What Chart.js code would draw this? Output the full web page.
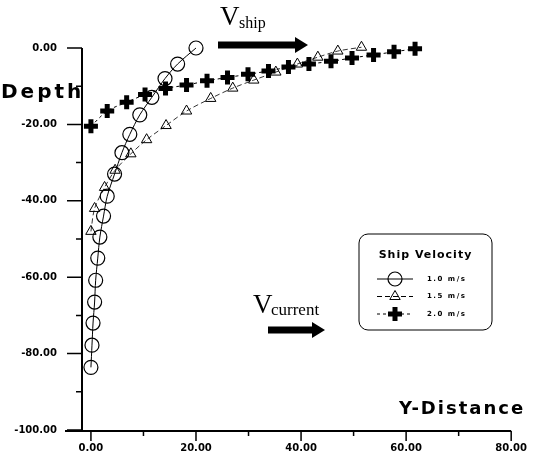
<!DOCTYPE html>
<html>
<head>
<meta charset="utf-8">
<script src="https://cdn.jsdelivr.net/npm/chart.js@4.4.1/dist/chart.umd.min.js"></script>
<style>
  html, body { margin: 0; padding: 0; background: #fff; }
  #wrap { width: 539px; height: 464px; }
</style>
</head>
<body>
<div id="wrap"><canvas id="shipChart" width="539" height="464"></canvas></div>
<script>
// 축 눈금
const distTicks = [0, 10, 20, 30, 40, 50, 60, 70, 80];
const depthTicks = [0, -10, -20, -30, -40, -50, -60, -70, -80, -90, -100];

// 1.0 m/s (circle)
const circleX = [20, 16.5, 14.1, 11.6, 9.3, 7.4, 5.9, 4.5, 3.1, 2.4, 1.7, 1.3, 0.9, 0.7, 0.4, 0.2, 0];
const circleY = [0, -4.2, -8, -12.9, -17.5, -22.6, -27.4, -33, -38.8, -44, -49.5, -55, -60.8, -66.5, -72, -77.8, -83.6];

// 1.5 m/s (triangle)
const triX = [0, 0.7, 2.6, 4.6, 7.6, 10.6, 14.3, 18.2, 22.8, 27, 31, 35.2, 39.3, 43.2, 47, 51.5];
const triY = [-48, -42, -36.5, -32, -27.7, -24, -20.3, -16.5, -13.2, -10.5, -8.4, -6.3, -4.2, -2.4, -0.8, 0.2];

// 2.0 m/s (cross)
const plusX = [0, 3.1, 6.8, 10.3, 14.2, 18.2, 22.1, 26, 29.9, 33.8, 37.6, 41.5, 45.7, 49.7, 53.8, 57.7, 61.7];
const plusY = [-20.5, -16.5, -14.2, -12.2, -10.6, -9.7, -8.6, -7.7, -6.9, -6.0, -5.0, -4.2, -3.5, -2.6, -1.8, -1.0, -0.2];

const seriesLabels = ['1.0 m/s', '1.5 m/s', '2.0 m/s'];

function toPoints(xs, ys) {
  return xs.map((x, i) => ({ x: x, y: ys[i] }));
}

const tickFont = { family: '"DejaVu Sans"', size: 10, weight: 'bold' };

// 화살표
function arrow(ctx, x0, x1, y, shaft, headLen, headH) {
  ctx.beginPath();
  ctx.moveTo(x0, y - shaft / 2);
  ctx.lineTo(x1 - headLen, y - shaft / 2);
  ctx.lineTo(x1 - headLen, y - headH / 2);
  ctx.lineTo(x1, y);
  ctx.lineTo(x1 - headLen, y + headH / 2);
  ctx.lineTo(x1 - headLen, y + shaft / 2);
  ctx.lineTo(x0, y + shaft / 2);
  ctx.closePath();
  ctx.fill();
}

const decor = {
  id: 'decor',
  beforeDatasetsDraw(chart) {
    const ctx = chart.ctx;
    ctx.save();
    ctx.fillStyle = '#000';
    ctx.font = 'bold 20px "DejaVu Sans"';
    ctx.letterSpacing = '3px';
    ctx.fillText('Depth', 1, 98);
    ctx.font = 'bold 18px "DejaVu Sans"';
    ctx.letterSpacing = '2px';
    ctx.fillText('Y-Distance', 399, 414);
    ctx.letterSpacing = '0px';

    // V ship
    ctx.font = '27px "Liberation Serif"';
    ctx.fillText('V', 220, 25);
    ctx.font = '16px "Liberation Serif"';
    ctx.fillText('ship', 239, 28);
    arrow(ctx, 218, 308, 45, 7, 13, 16);

    // V current
    ctx.font = '27px "Liberation Serif"';
    ctx.fillText('V', 253, 313);
    ctx.font = '17px "Liberation Serif"';
    ctx.fillText('current', 271, 315);
    arrow(ctx, 268, 325, 330, 7, 13, 16);
    ctx.restore();
  },
  afterDraw(chart) {
    const ctx = chart.ctx;
    const xs = chart.scales.x;
    const ys = chart.scales.y;
    const { left, right, top, bottom } = chart.chartArea;
    ctx.save();
    ctx.strokeStyle = '#000';
    ctx.lineWidth = 2;
    ctx.beginPath();
    ctx.moveTo(left, top);
    ctx.lineTo(left, bottom + 1);
    ctx.moveTo(65, bottom + 1);
    ctx.lineTo(right, bottom + 1);
    ctx.stroke();

    ctx.lineWidth = 1.5;
    ctx.beginPath();
    depthTicks.forEach(v => {
      const py = ys.getPixelForValue(v);
      const len = v % 20 === 0 ? 15 : 6;
      ctx.moveTo(left - len, py);
      ctx.lineTo(left, py);
    });
    distTicks.forEach(v => {
      const px = xs.getPixelForValue(v);
      const len = v % 20 === 0 ? 10 : 5;
      ctx.moveTo(px, bottom + 1);
      ctx.lineTo(px, bottom + 1 + len);
    });
    ctx.stroke();

    // 범례 박스
    const bx = 359, by = 234, bw = 133, bh = 96;
    ctx.lineWidth = 1;
    ctx.beginPath();
    ctx.roundRect(bx, by, bw, bh, 9);
    ctx.stroke();
    ctx.fillStyle = '#000';
    ctx.font = 'bold 11px "DejaVu Sans"';
    ctx.letterSpacing = '1px';
    ctx.textAlign = 'center';
    ctx.textBaseline = 'middle';
    ctx.fillText('Ship Velocity', bx + bw / 2, by + 21);
    ctx.textAlign = 'left';
    ctx.font = 'bold 7px "DejaVu Sans"';
    ctx.letterSpacing = '1.5px';
    chart.data.datasets.forEach((ds, i) => {
      const ry = by + 45 + i * 17.5;
      ctx.save();
      ctx.lineWidth = 1;
      ctx.setLineDash(ds.borderDash || []);
      ctx.beginPath();
      ctx.moveTo(bx + 18, ry);
      ctx.lineTo(bx + 54, ry);
      ctx.stroke();
      ctx.setLineDash([]);
      ctx.fillStyle = 'rgba(0,0,0,0)';
      ctx.lineWidth = ds.pointBorderWidth;
      Chart.helpers.drawPoint(ctx, {
        pointStyle: ds.pointStyle,
        radius: ds.pointRadius,
        borderWidth: ds.pointBorderWidth,
        rotation: 0
      }, bx + 36, ry);
      ctx.restore();
      ctx.fillText(ds.label, bx + 68, ry);
    });
    ctx.restore();
  }
};

new Chart(document.getElementById('shipChart'), {
  type: 'scatter',
  data: {
    datasets: [
      {
        label: seriesLabels[0],
        data: toPoints(circleX, circleY),
        showLine: true,
        borderColor: '#000',
        borderWidth: 1,
        tension: 0.3,
        pointStyle: 'circle',
        pointRadius: 7,
        pointBorderWidth: 1.2,
        pointBackgroundColor: 'rgba(0,0,0,0)',
        pointBorderColor: '#000',
        clip: false
      },
      {
        label: seriesLabels[1],
        data: toPoints(triX, triY),
        showLine: true,
        borderColor: '#000',
        borderWidth: 0.8,
        borderDash: [5, 3],
        tension: 0.3,
        pointStyle: 'triangle',
        pointRadius: 6,
        pointBorderWidth: 1,
        pointBackgroundColor: 'rgba(0,0,0,0)',
        pointBorderColor: '#000',
        clip: false
      },
      {
        label: seriesLabels[2],
        data: toPoints(plusX, plusY),
        showLine: true,
        borderColor: '#000',
        borderWidth: 1,
        borderDash: [3, 3],
        tension: 0.3,
        pointStyle: 'cross',
        pointRadius: 7,
        pointBorderWidth: 5,
        pointBackgroundColor: '#000',
        pointBorderColor: '#000',
        clip: false
      }
    ]
  },
  options: {
    responsive: false,
    animation: false,
    devicePixelRatio: 1,
    layout: { padding: { top: 48, right: 18, left: 0, bottom: 0 } },
    plugins: {
      legend: { display: false },
      tooltip: { enabled: false }
    },
    scales: {
      x: {
        type: 'linear',
        min: -1.7,
        max: 80,
        afterBuildTicks: s => { s.ticks = distTicks.map(v => ({ value: v })); },
        afterFit: s => { s.height = 34; },
        grid: { display: false, drawTicks: false },
        border: { display: false },
        ticks: {
          color: '#000',
          font: tickFont,
          padding: 12,
          maxRotation: 0,
          autoSkip: false,
          callback: v => (v % 20 === 0 ? v.toFixed(2) : '')
        }
      },
      y: {
        type: 'linear',
        min: -100,
        max: 0,
        afterBuildTicks: s => { s.ticks = depthTicks.map(v => ({ value: v })); },
        afterFit: s => { s.width = 82; },
        grid: { display: false, drawTicks: false },
        border: { display: false },
        ticks: {
          color: '#000',
          font: tickFont,
          padding: 25,
          autoSkip: false,
          callback: v => (v % 20 === 0 ? v.toFixed(2) : '')
        }
      }
    }
  },
  plugins: [decor]
});
</script>
</body>
</html>
